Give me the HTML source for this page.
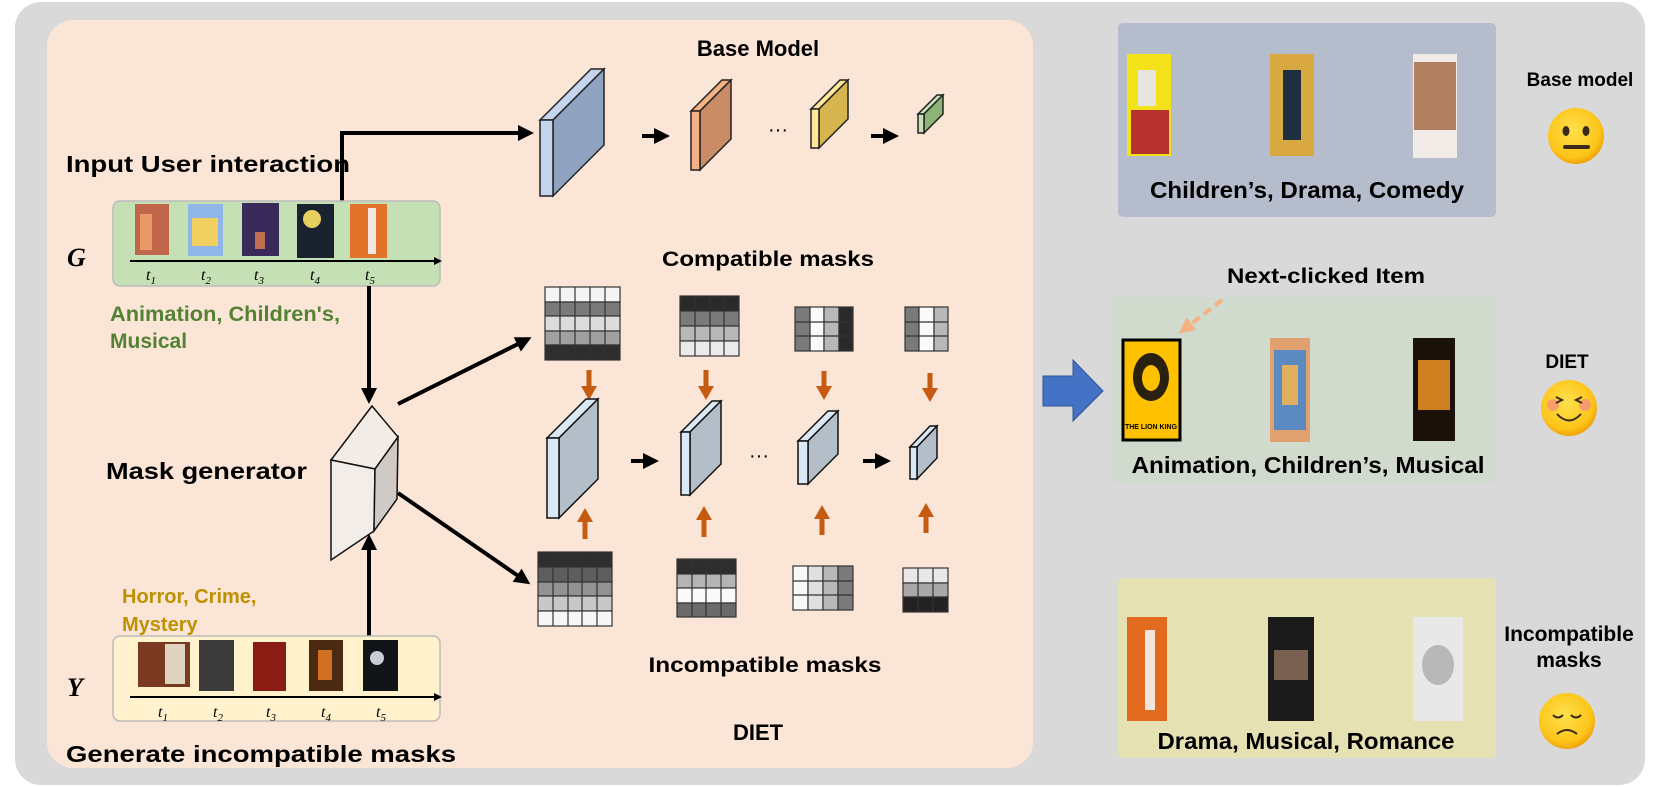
<!DOCTYPE html>
<html><head><meta charset="utf-8"><style>
html,body{margin:0;padding:0;background:#fff;}
svg{display:block;font-family:"Liberation Sans",Arial,sans-serif;}
</style></head><body>
<svg width="1661" height="787" viewBox="0 0 1661 787" xmlns="http://www.w3.org/2000/svg">
<defs>
<marker id="ab" markerWidth="4" markerHeight="4" refX="3" refY="2" orient="auto" markerUnits="strokeWidth"><path d="M0,0 L4,2 L0,4 z" fill="#000"/></marker>
<marker id="ao" markerWidth="4" markerHeight="4" refX="3" refY="2" orient="auto" markerUnits="strokeWidth"><path d="M0,0 L4,2 L0,4 z" fill="#f4b183"/></marker>
<radialGradient id="emo" cx="45%" cy="40%" r="60%"><stop offset="0" stop-color="#ffe14d"/><stop offset="0.8" stop-color="#fcc419"/><stop offset="1" stop-color="#f0a30a"/></radialGradient>
</defs>
<rect x="15" y="2" width="1630" height="783" rx="26" fill="#d9d9d9"/>
<rect x="47" y="20" width="986" height="748" rx="26" fill="#fbe5d6"/>

<text x="758" y="56" font-size="22" font-weight="bold" text-anchor="middle">Base Model</text>
<text x="66" y="172" font-size="23" font-weight="bold" textLength="284" lengthAdjust="spacingAndGlyphs">Input User interaction</text>

<polyline points="342,201 342,133 530,133" fill="none" stroke="#000" stroke-width="4" marker-end="url(#ab)"/>

<g stroke="#222" stroke-width="1.5">
<polygon points="540,120 591,69 604,69 553,120" fill="#c5d5ee"/><polygon points="553,120 604,69 604,145 553,196" fill="#8fa3c0"/><rect x="540" y="120" width="13" height="76" fill="#c5d5ee"/>
<polygon points="691,111 722,80 731,80 700,111" fill="#f4b183"/><polygon points="700,111 731,80 731,139 700,170" fill="#c98c66"/><rect x="691" y="111" width="9" height="59" fill="#f4b183"/>
<polygon points="811,109 840,80 848,80 819,109" fill="#ffe699"/><polygon points="819,109 848,80 848,119 819,148" fill="#d6b44e"/><rect x="811" y="109" width="8" height="39" fill="#ffe699"/>
<polygon points="918,114 937,95 943,95 924,114" fill="#c5e0b4"/><polygon points="924,114 943,95 943,114 924,133" fill="#8cb477"/><rect x="918" y="114" width="6" height="19" fill="#c5e0b4"/>
</g>
<line x1="642" y1="136" x2="666" y2="136" stroke="#000" stroke-width="4" marker-end="url(#ab)"/>
<line x1="871" y1="136" x2="895" y2="136" stroke="#000" stroke-width="4" marker-end="url(#ab)"/>
<text x="778" y="136" font-size="20" text-anchor="middle">···</text>

<!-- G box -->
<rect x="113" y="201" width="327" height="85" rx="7" fill="#c5e0b4" stroke="#bbb" stroke-width="1.5"/>
<text x="67" y="266" font-family="'Liberation Serif',serif" font-size="26" font-weight="bold" font-style="italic">G</text>
<rect x="135" y="204" width="34" height="51" fill="#c0664a"/><rect x="140" y="214" width="12" height="36" fill="#e89a6a"/>
<rect x="188" y="204" width="35" height="52" fill="#8fb6e6"/><rect x="192" y="218" width="26" height="28" fill="#f0d060"/>
<rect x="242" y="203" width="37" height="53" fill="#3a2a5a"/><rect x="255" y="232" width="10" height="17" fill="#c07050"/>
<rect x="297" y="204" width="37" height="54" fill="#1a2230"/><circle cx="312" cy="219" r="9" fill="#e8d060"/>
<rect x="350" y="204" width="37" height="54" fill="#e2732a"/><rect x="368" y="208" width="8" height="46" fill="#f0e8e0"/>
<line x1="130" y1="261" x2="440" y2="261" stroke="#000" stroke-width="2" marker-end="url(#ab)"/>
<g font-family="'Liberation Serif',serif" font-style="italic" font-size="16">
<text x="146" y="280">t<tspan font-size="11" dy="4">1</tspan></text>
<text x="201" y="280">t<tspan font-size="11" dy="4">2</tspan></text>
<text x="254" y="280">t<tspan font-size="11" dy="4">3</tspan></text>
<text x="310" y="280">t<tspan font-size="11" dy="4">4</tspan></text>
<text x="365" y="280">t<tspan font-size="11" dy="4">5</tspan></text>
</g>
<text x="110" y="321" font-size="21" font-weight="bold" fill="#548235" textLength="230" lengthAdjust="spacingAndGlyphs">Animation, Children's,</text>
<text x="110" y="348" font-size="21" font-weight="bold" fill="#548235">Musical</text>

<line x1="369" y1="286" x2="369" y2="400" stroke="#000" stroke-width="4" marker-end="url(#ab)"/>

<g stroke="#111" stroke-width="1.5">
<polygon points="372,406 398,437 375,469 331,460" fill="#f2ebe6"/>
<polygon points="331,460 375,469 374,531 331,560" fill="#f2ede9"/>
<polygon points="375,469 398,437 397,499 374,531" fill="#cfcac6"/>
</g>
<text x="106" y="479" font-size="23" font-weight="bold" textLength="201" lengthAdjust="spacingAndGlyphs">Mask generator</text>
<line x1="398" y1="404" x2="528" y2="339" stroke="#000" stroke-width="4" marker-end="url(#ab)"/>
<line x1="398" y1="493" x2="527" y2="582" stroke="#000" stroke-width="4" marker-end="url(#ab)"/>
<line x1="369" y1="636" x2="369" y2="538" stroke="#000" stroke-width="4" marker-end="url(#ab)"/>

<text x="768" y="266" font-size="21" font-weight="bold" text-anchor="middle" textLength="212" lengthAdjust="spacingAndGlyphs">Compatible masks</text>

<!-- top grids -->
<g stroke="#333" stroke-width="1.2">
<rect x="545" y="287" width="75" height="15" fill="#f4f4f4"/><rect x="545" y="302" width="75" height="14" fill="#7a7a7a"/><rect x="545" y="316" width="75" height="15" fill="#dcdcdc"/><rect x="545" y="331" width="75" height="14" fill="#a0a0a0"/><rect x="545" y="345" width="75" height="15" fill="#2e2e2e"/>
<path d="M560,287V360M575,287V360M590,287V360M605,287V360" fill="none"/>
<rect x="680" y="296" width="59" height="15" fill="#2a2a2a"/><rect x="680" y="311" width="59" height="15" fill="#7a7a7a"/><rect x="680" y="326" width="59" height="15" fill="#b8b8b8"/><rect x="680" y="341" width="59" height="15" fill="#eaeaea"/>
<path d="M695,296V356M710,296V356M724,296V356" fill="none"/>
<rect x="795" y="307" width="15" height="44" fill="#7a7a7a"/><rect x="810" y="307" width="14" height="44" fill="#fafafa"/><rect x="824" y="307" width="15" height="44" fill="#b8b8b8"/><rect x="839" y="307" width="14" height="44" fill="#2a2a2a"/>
<path d="M795,322H853M795,336H853" fill="none"/>
<rect x="905" y="307" width="14" height="44" fill="#7a7a7a"/><rect x="919" y="307" width="15" height="44" fill="#fafafa"/><rect x="934" y="307" width="14" height="44" fill="#b8b8b8"/>
<path d="M905,322H948M905,336H948" fill="none"/>
</g>

<g stroke="#c55a11" stroke-width="5" fill="#c55a11">
<line x1="589" y1="370" x2="589" y2="388"/><polygon points="581,386 597,386 589,400" stroke="none"/>
<line x1="706" y1="370" x2="706" y2="388"/><polygon points="698,386 714,386 706,400" stroke="none"/>
<line x1="824" y1="371" x2="824" y2="388"/><polygon points="816,386 832,386 824,400" stroke="none"/>
<line x1="930" y1="373" x2="930" y2="390"/><polygon points="922,388 938,388 930,402" stroke="none"/>
<line x1="585" y1="539" x2="585" y2="520"/><polygon points="577,522 593,522 585,508" stroke="none"/>
<line x1="704" y1="537" x2="704" y2="518"/><polygon points="696,520 712,520 704,506" stroke="none"/>
<line x1="822" y1="535" x2="822" y2="517"/><polygon points="814,519 830,519 822,505" stroke="none"/>
<line x1="926" y1="533" x2="926" y2="515"/><polygon points="918,517 934,517 926,503" stroke="none"/>
</g>

<g stroke="#111" stroke-width="1.5">
<polygon points="547,438 586,399 598,399 559,438" fill="#dae8f5"/><polygon points="559,438 598,399 598,479 559,518" fill="#b4bec8"/><rect x="547" y="438" width="12" height="80" fill="#dae8f5"/>
<polygon points="681,432 712,401 721,401 690,432" fill="#dae8f5"/><polygon points="690,432 721,401 721,464 690,495" fill="#b4bec8"/><rect x="681" y="432" width="9" height="63" fill="#dae8f5"/>
<polygon points="798,441 828,411 838,411 808,441" fill="#dae8f5"/><polygon points="808,441 838,411 838,454 808,484" fill="#b4bec8"/><rect x="798" y="441" width="10" height="43" fill="#dae8f5"/>
<polygon points="910,447 930,426 937,426 917,447" fill="#dae8f5"/><polygon points="917,447 937,426 937,458 917,479" fill="#b4bec8"/><rect x="910" y="447" width="7" height="32" fill="#dae8f5"/>
</g>
<line x1="631" y1="461" x2="655" y2="461" stroke="#000" stroke-width="4" marker-end="url(#ab)"/>
<line x1="863" y1="461" x2="887" y2="461" stroke="#000" stroke-width="4" marker-end="url(#ab)"/>
<text x="759" y="462" font-size="20" text-anchor="middle">···</text>

<!-- bottom grids -->
<g stroke="#333" stroke-width="1.2">
<rect x="538" y="552" width="74" height="15" fill="#2e2e2e"/><rect x="538" y="567" width="74" height="15" fill="#5e5e5e"/><rect x="538" y="582" width="74" height="14" fill="#929292"/><rect x="538" y="596" width="74" height="15" fill="#c8c8c8"/><rect x="538" y="611" width="74" height="15" fill="#f6f6f6"/>
<path d="M553,552V626M568,552V626M582,552V626M597,552V626" fill="none"/>
<rect x="677" y="559" width="59" height="15" fill="#2e2e2e"/><rect x="677" y="574" width="59" height="14" fill="#b4b4b4"/><rect x="677" y="588" width="59" height="15" fill="#fafafa"/><rect x="677" y="603" width="59" height="14" fill="#6a6a6a"/>
<path d="M692,559V617M706,559V617M721,559V617" fill="none"/>
<rect x="793" y="566" width="15" height="44" fill="#f8f8f8"/><rect x="808" y="566" width="15" height="44" fill="#e0e0e0"/><rect x="823" y="566" width="15" height="44" fill="#b8b8b8"/><rect x="838" y="566" width="15" height="44" fill="#7a7a7a"/>
<path d="M793,581H853M793,595H853" fill="none"/>
<rect x="903" y="568" width="45" height="15" fill="#e8e8e8"/><rect x="903" y="583" width="45" height="14" fill="#a8a8a8"/><rect x="903" y="597" width="45" height="15" fill="#222"/>
<path d="M918,568V612M933,568V612" fill="none"/>
</g>
<text x="765" y="672" font-size="21" font-weight="bold" text-anchor="middle" textLength="233" lengthAdjust="spacingAndGlyphs">Incompatible masks</text>
<text x="758" y="740" font-size="22" font-weight="bold" text-anchor="middle">DIET</text>

<!-- Y box -->
<text x="122" y="603" font-size="20" font-weight="bold" fill="#bf9000">Horror, Crime,</text>
<text x="122" y="631" font-size="20" font-weight="bold" fill="#bf9000">Mystery</text>
<rect x="113" y="636" width="327" height="85" rx="7" fill="#fff2cc" stroke="#bbb" stroke-width="1.5"/>
<text x="67" y="696" font-family="'Liberation Serif',serif" font-size="26" font-weight="bold" font-style="italic">Y</text>
<rect x="138" y="642" width="52" height="45" fill="#7a3a22"/><rect x="165" y="644" width="20" height="40" fill="#e0d4c0"/>
<rect x="199" y="640" width="35" height="51" fill="#3a3a3a"/>
<rect x="253" y="642" width="33" height="49" fill="#8a1c14"/>
<rect x="309" y="640" width="34" height="51" fill="#4a2a10"/><rect x="318" y="650" width="14" height="30" fill="#d07020"/>
<rect x="363" y="640" width="35" height="51" fill="#121418"/><circle cx="377" cy="658" r="7" fill="#c8ccd4"/>
<line x1="130" y1="697" x2="440" y2="697" stroke="#000" stroke-width="2" marker-end="url(#ab)"/>
<g font-family="'Liberation Serif',serif" font-style="italic" font-size="16">
<text x="158" y="717">t<tspan font-size="11" dy="4">1</tspan></text>
<text x="213" y="717">t<tspan font-size="11" dy="4">2</tspan></text>
<text x="266" y="717">t<tspan font-size="11" dy="4">3</tspan></text>
<text x="321" y="717">t<tspan font-size="11" dy="4">4</tspan></text>
<text x="376" y="717">t<tspan font-size="11" dy="4">5</tspan></text>
</g>
<text x="66" y="762" font-size="23" font-weight="bold" textLength="390" lengthAdjust="spacingAndGlyphs">Generate incompatible masks</text>

<polygon points="1043,376 1073,376 1073,360 1103,391 1073,421 1073,406 1043,406" fill="#4472c4" stroke="#2f5597" stroke-width="1"/>

<rect x="1118" y="23" width="378" height="194" rx="5" fill="#b5bccb"/>
<rect x="1127" y="54" width="44" height="102" fill="#f3e21a"/><rect x="1131" y="110" width="38" height="44" fill="#b83030"/><rect x="1138" y="70" width="18" height="36" fill="#e8e4e0"/>
<rect x="1270" y="54" width="44" height="102" fill="#d9a840"/><rect x="1283" y="70" width="18" height="70" fill="#1e3040"/>
<rect x="1413" y="54" width="44" height="104" fill="#f0ebe6"/><rect x="1414" y="62" width="42" height="68" fill="#b08060"/>
<text x="1307" y="198" font-size="23" font-weight="bold" text-anchor="middle" textLength="314" lengthAdjust="spacingAndGlyphs">Children’s, Drama, Comedy</text>

<text x="1326" y="283" font-size="21" font-weight="bold" text-anchor="middle" textLength="198" lengthAdjust="spacingAndGlyphs">Next-clicked Item</text>
<rect x="1112" y="297" width="384" height="186" rx="5" fill="#d0dacd"/>
<line x1="1222" y1="300" x2="1182" y2="331" stroke="#f4b183" stroke-width="4" stroke-dasharray="9,5" marker-end="url(#ao)"/>
<rect x="1123" y="340" width="57" height="100" fill="#ffc000" stroke="#000" stroke-width="3"/>
<ellipse cx="1151" cy="377" rx="18" ry="24" fill="#2a2010"/><ellipse cx="1151" cy="378" rx="9" ry="13" fill="#ffc000"/>
<text x="1151" y="429" font-size="7" font-weight="bold" text-anchor="middle">THE LION KING</text>
<rect x="1270" y="338" width="40" height="104" fill="#e0a070"/><rect x="1274" y="350" width="32" height="80" fill="#5a8ac0"/><rect x="1282" y="365" width="16" height="40" fill="#e0b060"/>
<rect x="1413" y="338" width="42" height="103" fill="#1a120a"/><rect x="1418" y="360" width="32" height="50" fill="#d08020"/>
<text x="1308" y="473" font-size="23" font-weight="bold" text-anchor="middle" textLength="353" lengthAdjust="spacingAndGlyphs">Animation, Children’s, Musical</text>

<rect x="1118" y="578" width="378" height="180" rx="5" fill="#e5e1b3"/>
<rect x="1127" y="617" width="40" height="104" fill="#e26a1f"/><rect x="1145" y="630" width="10" height="80" fill="#f1e6dc"/>
<rect x="1268" y="617" width="46" height="104" fill="#1a1a1a"/><rect x="1274" y="650" width="34" height="30" fill="#7a6050"/>
<rect x="1413" y="617" width="50" height="104" fill="#e8e8e8"/><ellipse cx="1438" cy="665" rx="16" ry="20" fill="#b8b8b8"/>
<text x="1306" y="749" font-size="23" font-weight="bold" text-anchor="middle" textLength="297" lengthAdjust="spacingAndGlyphs">Drama, Musical, Romance</text>

<text x="1580" y="86" font-size="19" font-weight="bold" text-anchor="middle">Base model</text>
<circle cx="1576" cy="136" r="28" fill="url(#emo)"/>
<ellipse cx="1566" cy="131" rx="3.5" ry="5" fill="#3a2a1a"/><ellipse cx="1586" cy="131" rx="3.5" ry="5" fill="#3a2a1a"/>
<rect x="1563" y="145" width="27" height="4" rx="2" fill="#3a2a1a"/>

<text x="1567" y="368" font-size="19" font-weight="bold" text-anchor="middle">DIET</text>
<circle cx="1569" cy="408" r="28" fill="url(#emo)"/>
<circle cx="1553" cy="405" r="6" fill="#f6907a" opacity="0.8"/><circle cx="1585" cy="405" r="6" fill="#f6907a" opacity="0.8"/>
<path d="M1556,397 l6,3 l-6,3 M1582,397 l-6,3 l6,3" stroke="#3a2a1a" stroke-width="2" fill="none"/>
<path d="M1557,414 q12,13 24,0" stroke="#3a2a1a" stroke-width="2" fill="none"/>

<text x="1569" y="641" font-size="21" font-weight="bold" text-anchor="middle">Incompatible</text>
<text x="1569" y="667" font-size="21" font-weight="bold" text-anchor="middle">masks</text>
<circle cx="1567" cy="721" r="28" fill="url(#emo)"/>
<path d="M1553,715 q5,5 10,0 M1571,715 q5,5 10,0" stroke="#3a2a1a" stroke-width="2" fill="none"/>
<path d="M1557,734 q10,-8 20,0" stroke="#3a2a1a" stroke-width="2" fill="none"/>
</svg>
</body></html>
